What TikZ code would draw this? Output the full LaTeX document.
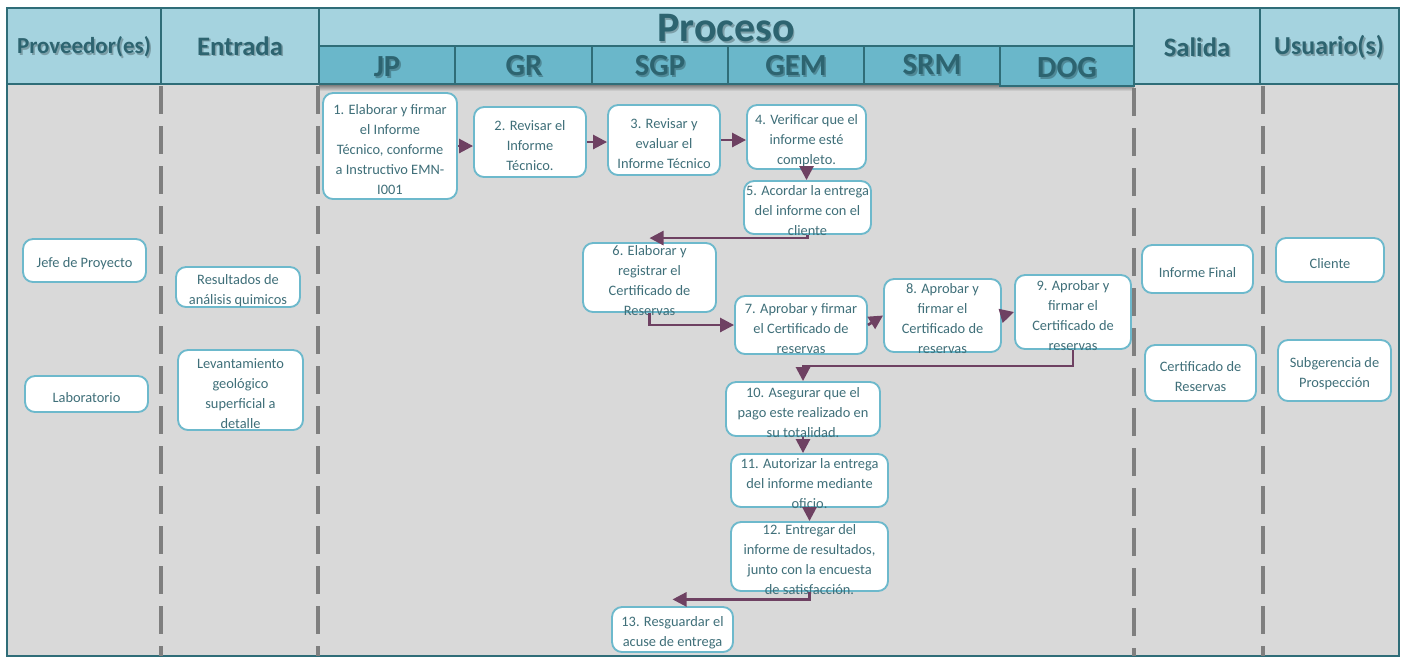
\documentclass[tikz,border=0pt]{standalone}
\usepackage{fontspec}
\setmainfont{Carlito}
\usetikzlibrary{arrows.meta}
\definecolor{hlight}{HTML}{A5D3DF}
\definecolor{hdark}{HTML}{6AB7CA}
\definecolor{hborder}{HTML}{2F6D78}
\definecolor{htext}{HTML}{2D6470}
\definecolor{bodyc}{HTML}{D9D9D9}
\definecolor{dashc}{HTML}{7F7F7F}
\definecolor{boxb}{HTML}{6DB9CC}
\definecolor{btext}{HTML}{3F6F79}
\definecolor{arrc}{HTML}{6E4162}
\newcommand\mybox[6]{%
  \node[pbox, minimum width=#4*0.75pt, minimum height=#5*0.75pt] (#1) at (#2,#3) {};
  \node[ptxt] (#1t) at ([yshift=-2.5pt]#1.center) {#6};}
\newcommand\htxt[5]{%
  \node[hsh,font=#5] (#1s) at ([shift={(1.6,1.6)}]#2,#3) {#4};
  \node[htx,font=#5] (#1) at (#2,#3) {#4};}
\begin{document}
\begin{tikzpicture}[x=0.75pt,y=-0.75pt,
  pbox/.style={draw=boxb, fill=white, line width=1.4pt, rounded corners=7.5pt, inner sep=0pt},
  ptxt/.style={text=btext, align=center, inner sep=0pt, font=\fontsize{10.8}{15}\selectfont},
  hcell/.style={fill=hlight, draw=hborder, line width=1.1pt},
  hsub/.style={fill=hdark, draw=hborder, line width=1.1pt},
  htx/.style={text=htext, inner sep=0pt},
  hsh/.style={text=black, opacity=0.25, inner sep=0pt},
  lane/.style={draw=dashc, line width=3.6pt, dash pattern=on 21pt off 9pt},
  flow/.style={draw=arrc, line width=2pt, -{Triangle[length=10.5pt,width=10.5pt]}}]
\useasboundingbox (0,0) rectangle (1405,658);
\fill[white] (0,0) rectangle (1405,658);
% body
\fill[bodyc] (7,84) rectangle (1399,656);
\shade[top color=black!50, bottom color=bodyc] (319,85) rectangle (1134,91);
\draw[hborder, line width=1.1pt] (7,84) -- (7,656) -- (1399,656) -- (1399,84);
% header cells
\draw[hcell] (7,8) rectangle (161,84);
\draw[hcell] (161,8) rectangle (319,84);
\draw[hcell] (319,8) rectangle (1134,46);
\draw[hcell] (1134,8) rectangle (1260,84);
\draw[hcell] (1260,8) rectangle (1399,84);
\draw[hsub] (319,46) rectangle (455,84);
\draw[hsub] (455,46) rectangle (592,84);
\draw[hsub] (592,46) rectangle (728,84);
\draw[hsub] (728,46) rectangle (864,84);
\draw[hsub] (864,46) rectangle (1000,84);
\draw[hsub] (1000,46) rectangle (1134,86);
% header texts
\htxt{hprov}{84}{47}{Proveedor(es)}{\bfseries\fontsize{17.2}{18}\selectfont}
\htxt{hent}{240}{46}{Entrada}{\bfseries\fontsize{20}{20}\selectfont}
\htxt{hproc}{726}{28}{Proceso}{\bfseries\fontsize{31.5}{32}\selectfont}
\htxt{hjp}{387}{67}{JP}{\bfseries\fontsize{23}{24}\selectfont}
\htxt{hgr}{524}{66}{GR}{\bfseries\fontsize{23}{24}\selectfont}
\htxt{hsgp}{660}{66}{SGP}{\bfseries\fontsize{23}{24}\selectfont}
\htxt{hgem}{796}{66}{GEM}{\bfseries\fontsize{23}{24}\selectfont}
\htxt{hsrm}{932}{65}{SRM}{\bfseries\fontsize{23}{24}\selectfont}
\htxt{hdog}{1067}{68}{DOG}{\bfseries\fontsize{23}{24}\selectfont}
\htxt{hsal}{1197}{47}{Salida}{\bfseries\fontsize{20}{20}\selectfont}
\htxt{husu}{1329}{47}{Usuario(s)}{\bfseries\fontsize{19.4}{20}\selectfont}
% lane separators
\draw[lane] (161,86) -- (161,656);
\draw[lane] (318,86) -- (318,656);
\draw[lane] (1134,88) -- (1134,656);
\draw[lane] (1263,86) -- (1263,656);
% side boxes
\mybox{jdp}{84.5}{260.5}{123}{43}{Jefe de Proyecto}
\mybox{lab}{86.5}{394}{123}{36}{Laboratorio}
\mybox{res}{238}{287}{124}{40}{Resultados de\\análisis quimicos}
\mybox{lev}{240.5}{390}{125}{80}{Levantamiento\\geológico\\superficial a\\detalle}
\mybox{inf}{1197.5}{269}{111}{48}{Informe Final}
\mybox{cdr}{1200.5}{373}{111}{56}{Certificado de\\Reservas}
\mybox{cli}{1330}{260}{108}{44}{Cliente}
\mybox{sub}{1334.5}{370.5}{113}{61}{Subgerencia de\\Prospección}
% process boxes
\mybox{b1}{390}{146}{134}{106}{1. Elaborar y firmar\\el Informe\\Técnico, conforme\\a Instructivo EMN-\\I001}
\mybox{b2}{530}{142}{112}{70}{2. Revisar el\\Informe\\Técnico.}
\mybox{b3}{664}{140}{112}{70}{3. Revisar y\\evaluar el\\Informe Técnico}
\mybox{b4}{806.5}{137}{119}{64}{4. Verificar que el\\informe esté\\completo.}
\mybox{b5}{807.5}{207.5}{127}{53}{5. Acordar la entrega\\del informe con el\\cliente}
\mybox{b6}{649.5}{277.5}{133}{69}{6. Elaborar y\\registrar el\\Certificado de\\Reservas}
\mybox{b7}{801}{325}{132}{58}{7. Aprobar y firmar\\el Certificado de\\reservas}
\mybox{b8}{942.5}{315.5}{117}{73}{8. Aprobar y\\firmar el\\Certificado de\\reservas}
\mybox{b9}{1073}{312}{116}{74}{9. Aprobar y\\firmar el\\Certificado de\\reservas}
\mybox{b10}{803}{409}{154}{54}{10. Asegurar que el\\pago este realizado\ en\\su totalidad.}
\mybox{b11}{809.5}{480.5}{157}{53}{11. Autorizar la entrega\\del informe mediante\\oficio.}
\mybox{b12}{809.5}{556.5}{157}{69}{12. Entregar del\\informe de resultados,\\junto con la encuesta\\de satisfacción.}
\mybox{b13}{672.5}{629.5}{121}{45}{13. Resguardar el\\acuse de entrega}
% flow
\draw[flow] (b1.east) -- (b1.east -| b2.west);
\draw[flow] (b2.east) -- (b2.east -| b3.west);
\draw[flow] (b3.east) -- (b3.east -| b4.west);
\draw[flow] (b4.south) -- (b4.south |- b5.north);
\draw[flow] (b5.south) |- ([yshift=3pt]b6.north);
\draw[flow] (b6.south) |- (b7.west);
\draw[flow] (b7.east) -- (b8.west);
\draw[flow] (b8.east) -- (b9.west);
\draw[flow] (b9.south) -- ([yshift=-12pt]b9.south) -| (b10.north);
\draw[flow] (b10.south) -- (b10.south |- b11.north);
\draw[flow] (b11.south) -- (b11.south |- b12.north);
\draw[flow] (b12.south) |- ([yshift=5pt]b13.north);
\end{tikzpicture}
\end{document}
